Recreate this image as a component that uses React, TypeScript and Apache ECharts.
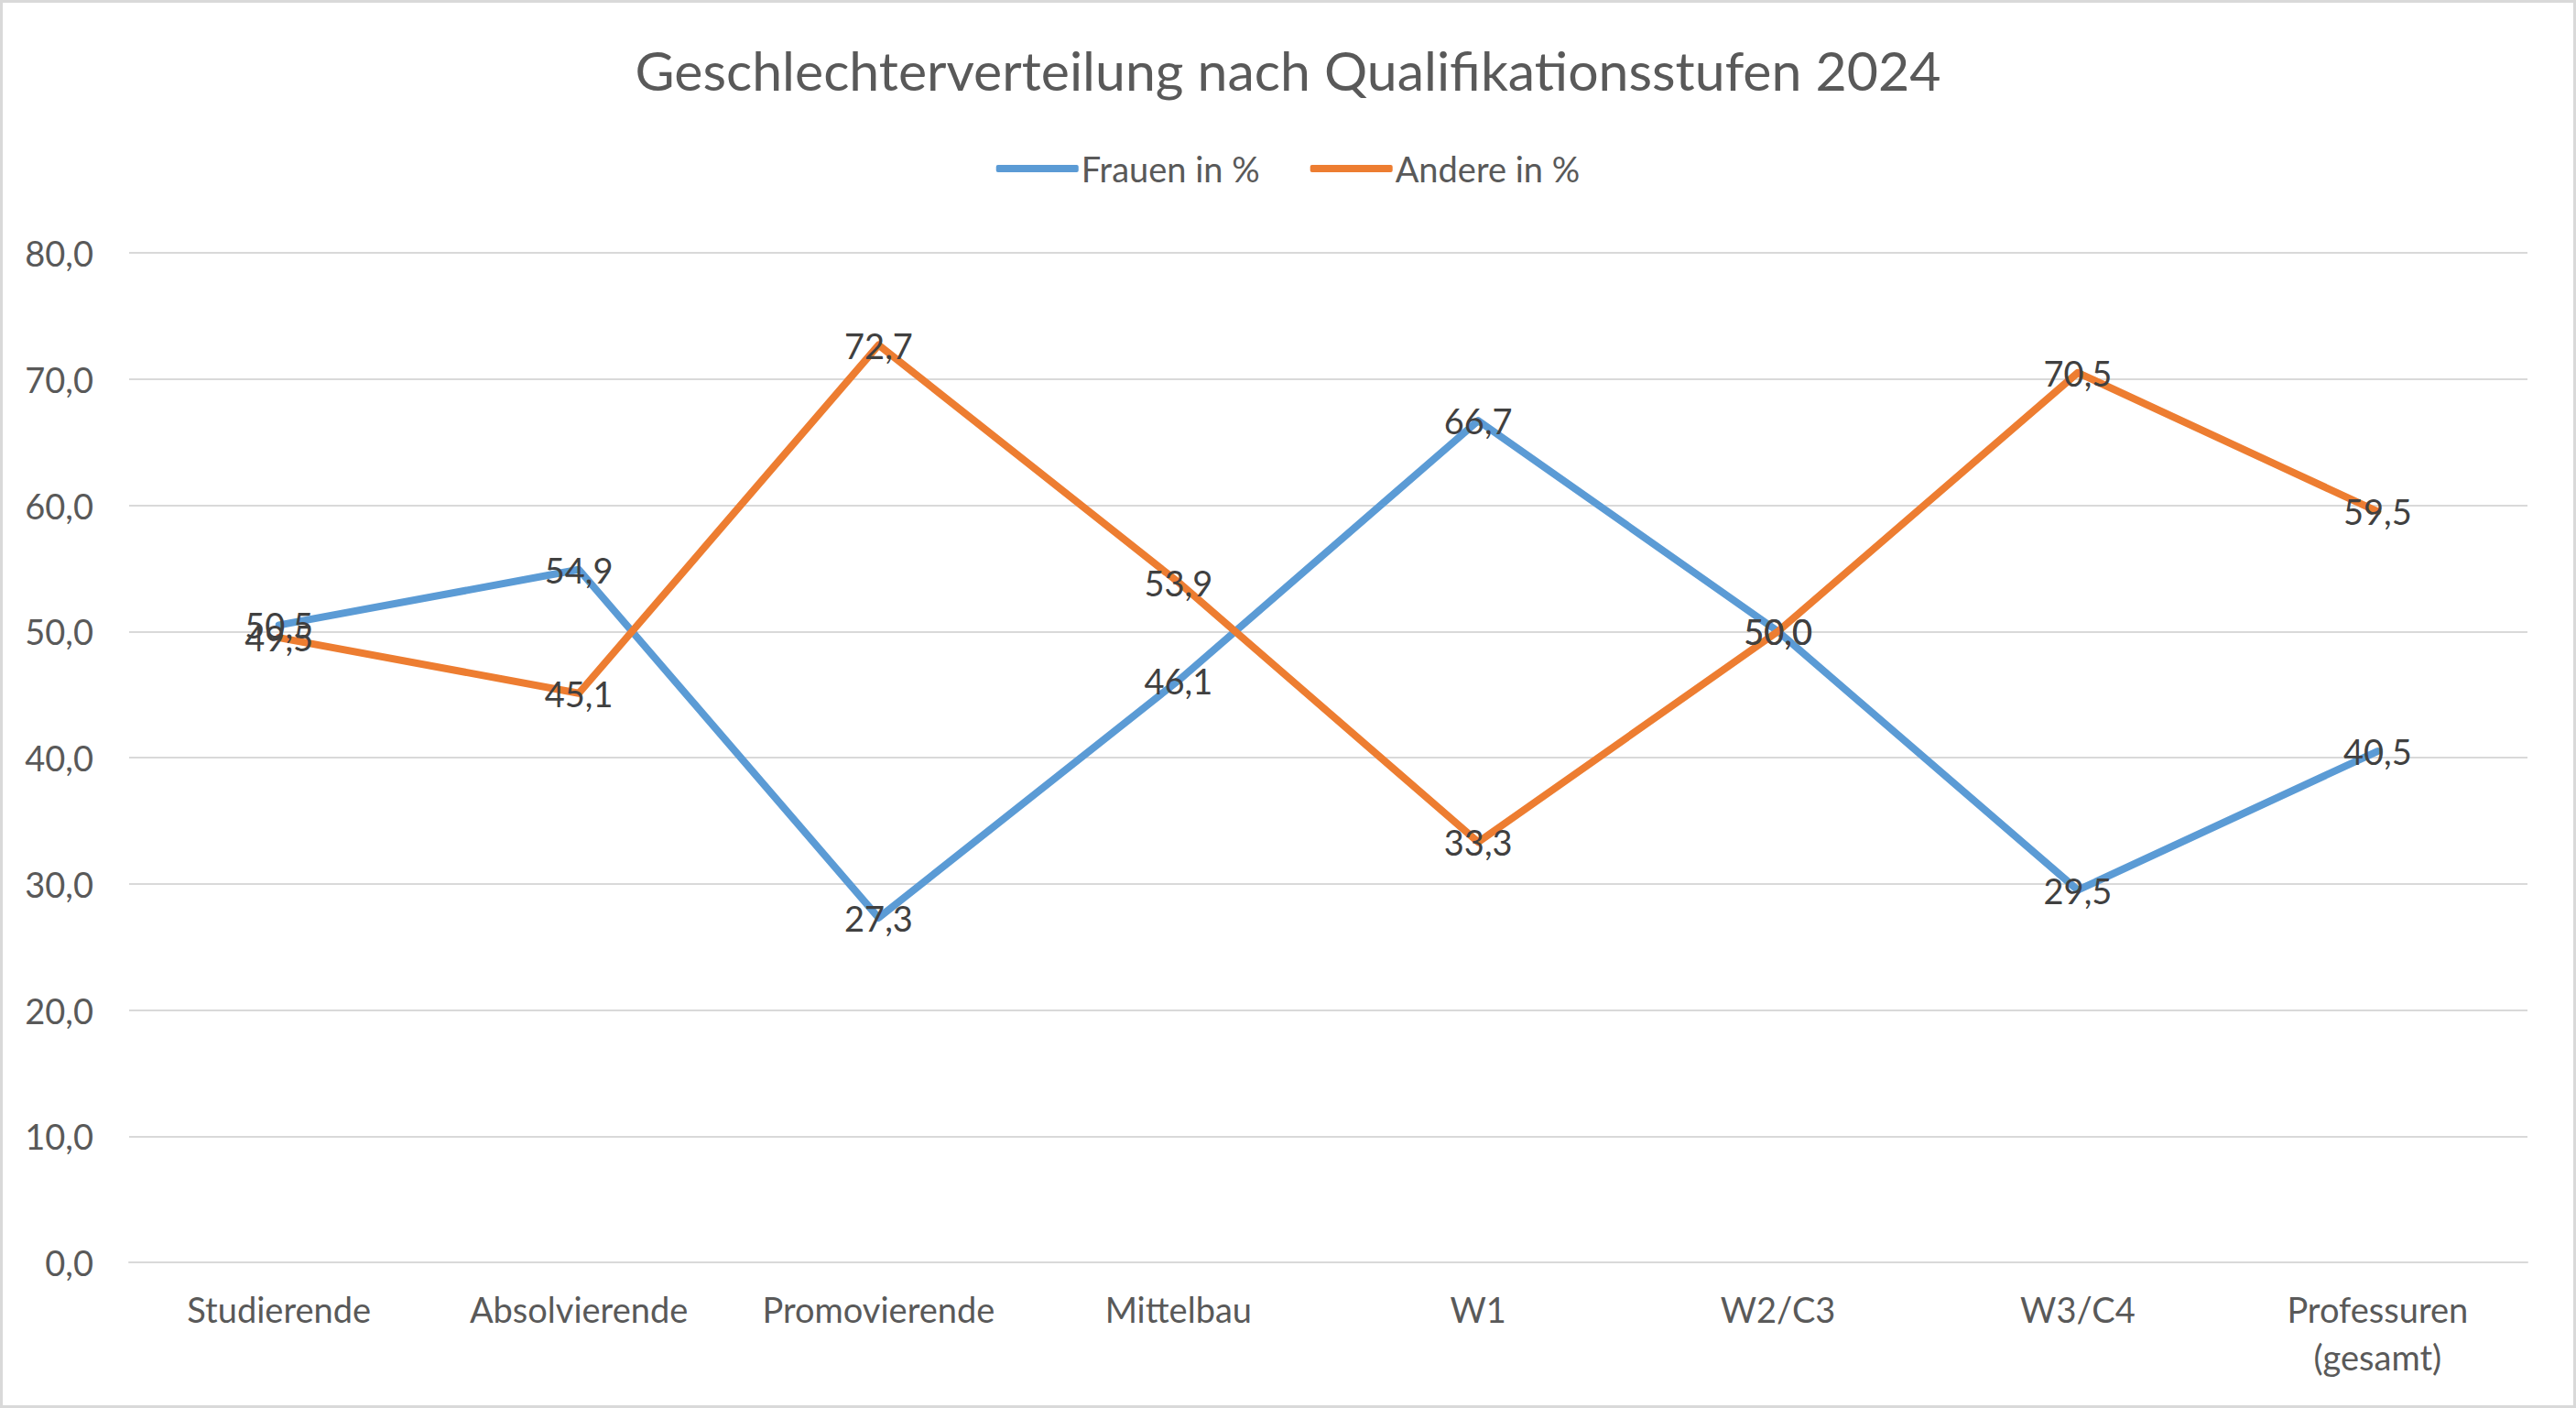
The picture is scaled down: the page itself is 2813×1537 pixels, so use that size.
import React, { useEffect, useRef } from "react";
import * as echarts from "echarts";

const categories = [
  "Studierende",
  "Absolvierende",
  "Promovierende",
  "Mittelbau",
  "W1",
  "W2/C3",
  "W3/C4",
  "Professuren\n(gesamt)",
];
const frauen = [50.5, 54.9, 27.3, 46.1, 66.7, 50.0, 29.5, 40.5];
const andere = [49.5, 45.1, 72.7, 53.9, 33.3, 50.0, 70.5, 59.5];
const seriesNames = ["Frauen in %", "Andere in %"];
const titleText = "Geschlechterverteilung nach Qualifikationsstufen 2024";

const FONT = "Lato";
const fmt = (v: number) => v.toFixed(1).replace(".", ",");

export default function App() {
  const ref = useRef<HTMLDivElement>(null);
  useEffect(() => {
    document.body.style.margin = "0";
    const chart = echarts.init(ref.current!, undefined, { renderer: "svg" });
    const mkSeries = (name: string, data: number[], color: string) => ({
      name,
      type: "line",
      data,
      symbol: "circle",
      symbolSize: 1,
      itemStyle: { color },
      lineStyle: { color, width: 8, cap: "round", join: "round" },
      label: {
        show: true,
        position: "inside",
        formatter: (p: any) => fmt(p.value),
        color: "#404040",
        fontFamily: FONT,
        fontSize: 38,
      },
      emphasis: { disabled: true },
    });
    chart.setOption({
      animation: false,
      backgroundColor: "#ffffff",
      title: {
        text: titleText,
        left: "center",
        top: 38,
        textStyle: {
          fontFamily: FONT,
          fontSize: 59,
          fontWeight: "normal",
          color: "#595959",
          lineHeight: 66,
        },
      },
      legend: {
        top: 160,
        left: "center",
        icon: "roundRect",
        itemWidth: 90,
        itemHeight: 8,
        itemGap: 55,
        textStyle: {
          fontFamily: FONT,
          fontSize: 38,
          color: "#595959",
          padding: [0, 0, 0, -2],
        },
        data: seriesNames,
      },
      grid: { left: 141, right: 53, top: 276, bottom: 159, containLabel: false },
      xAxis: {
        type: "category",
        data: categories,
        boundaryGap: true,
        axisTick: { show: false },
        axisLine: { lineStyle: { color: "#D9D9D9", width: 2 } },
        axisLabel: {
          fontFamily: FONT,
          fontSize: 38,
          color: "#595959",
          margin: 25,
          lineHeight: 52,
          interval: 0,
        },
      },
      yAxis: {
        type: "value",
        min: 0,
        max: 80,
        interval: 10,
        axisLine: { show: false },
        axisTick: { show: false },
        splitLine: { lineStyle: { color: "#D9D9D9", width: 2 } },
        axisLabel: {
          fontFamily: FONT,
          fontSize: 38,
          color: "#595959",
          margin: 39,
          formatter: (v: number) => fmt(v),
        },
      },
      series: [
        mkSeries(seriesNames[0], frauen, "#5B9BD5"),
        mkSeries(seriesNames[1], andere, "#ED7D31"),
      ],
      graphic: [
        {
          type: "rect",
          shape: { x: 1.5, y: 1.5, width: 2810, height: 1534 },
          style: { fill: "none", stroke: "#D9D9D9", lineWidth: 3 },
          silent: true,
          z: 100,
        },
      ],
    });
    return () => chart.dispose();
  }, []);
  return <div ref={ref} style={{ width: 2813, height: 1537 }} />;
}
